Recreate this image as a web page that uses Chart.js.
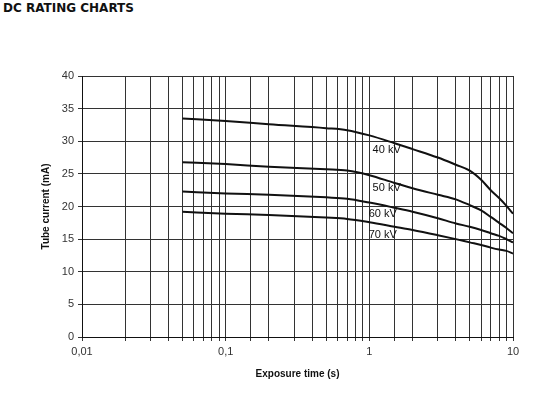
<!DOCTYPE html>
<html>
<head>
<meta charset="utf-8">
<script src="https://cdn.jsdelivr.net/npm/chart.js@4/dist/chart.umd.min.js"></script>
<style>
  html, body { margin: 0; padding: 0; background: #fff; }
  #wrap { position: relative; width: 542px; height: 396px; }
  #title { position: absolute; left: 3px; top: 1px; font: bold 12px "DejaVu Sans", Verdana, sans-serif; color: #111; }
  canvas { position: absolute; left: 0; top: 0; }
</style>
</head>
<body>
<div id="wrap">
  <div id="title">DC RATING CHARTS</div>
  <canvas id="c" width="542" height="396"></canvas>
</div>
<script>
// Exposure time (s)
const times = [0.05, 0.1, 0.2, 0.5, 0.7, 1, 1.5, 2, 3, 4, 5, 6, 7, 8, 9, 10];
// Tube current (mA) per voltage
const kv40 = [33.5, 33.1, 32.6, 32.0, 31.7, 30.9, 29.7, 28.8, 27.5, 26.4, 25.5, 24.1, 22.5, 21.3, 20.1, 18.9];
const kv50 = [26.8, 26.5, 26.1, 25.7, 25.5, 24.8, 23.6, 22.8, 21.8, 21.1, 20.2, 19.4, 18.4, 17.5, 16.7, 15.9];
const kv60 = [22.3, 22.0, 21.8, 21.4, 21.2, 20.6, 19.8, 19.2, 18.2, 17.4, 16.9, 16.4, 15.9, 15.5, 15.0, 14.5];
const kv70 = [19.2, 18.9, 18.7, 18.3, 18.1, 17.6, 16.9, 16.4, 15.6, 15.0, 14.5, 14.1, 13.7, 13.4, 13.2, 12.8];
const seriesNames = ['40 kV', '50 kV', '60 kV', '70 kV'];
// Curve label anchor positions (data coords: time, current)
const labelTimes = [1.32, 1.32, 1.24, 1.24];
const labelValues = [28.7, 22.9, 18.9, 15.7];
const xTickLabels = { 0.01: '0,01', 0.1: '0,1', 1: '1', 10: '10' };

const allSeries = [kv40, kv50, kv60, kv70];
const datasets = allSeries.map((vals, i) => ({
  label: seriesNames[i],
  data: times.map((t, j) => ({ x: t, y: vals[j] })),
  borderColor: '#111',
  borderWidth: 2,
  pointRadius: 0,
  fill: false,
  cubicInterpolationMode: 'monotone'
}));

const curveLabels = {
  id: 'curveLabels',
  afterDatasetsDraw(chart) {
    const { ctx, scales } = chart;
    ctx.save();
    ctx.font = '11px "Liberation Sans", Arial, sans-serif';
    ctx.fillStyle = '#111';
    ctx.textAlign = 'center';
    ctx.textBaseline = 'middle';
    seriesNames.forEach((n, i) => {
      ctx.fillText(n, scales.x.getPixelForValue(labelTimes[i]), scales.y.getPixelForValue(labelValues[i]));
    });
    ctx.restore();
  }
};

new Chart(document.getElementById('c'), {
  type: 'line',
  data: { datasets },
  plugins: [curveLabels],
  options: {
    responsive: false,
    animation: false,
    layout: { padding: { left: 40, right: 29, top: 76, bottom: 16 } },
    plugins: { legend: { display: false }, tooltip: { enabled: false } },
    scales: {
      x: {
        type: 'logarithmic',
        min: 0.01, max: 10,
        border: { color: '#111', width: 1 },
        grid: { color: '#333', lineWidth: 1, tickLength: 4, tickColor: '#333' },
        ticks: {
          autoSkip: false, maxRotation: 0, padding: 4,
          color: '#333',
          font: { family: '"Liberation Sans", Arial, sans-serif', size: 11 },
          callback: (v) => xTickLabels[v] !== undefined ? xTickLabels[v] : ''
        },
        title: {
          display: true, text: 'Exposure time (s)', color: '#111',
          font: { family: '"Liberation Sans", Arial, sans-serif', size: 10, weight: 'bold' },
          padding: { top: 4, bottom: 0 }
        },
        afterFit(s) { s.height = 396 - 337 - 16; }
      },
      y: {
        min: 0, max: 40,
        border: { color: '#111', width: 1 },
        grid: { color: '#333', lineWidth: 1, tickLength: 4, tickColor: '#333' },
        ticks: {
          stepSize: 5, padding: 4, color: '#333',
          font: { family: '"Liberation Sans", Arial, sans-serif', size: 11 }
        },
        title: {
          display: true, text: 'Tube current (mA)', color: '#111',
          font: { family: '"Liberation Sans", Arial, sans-serif', size: 10, weight: 'bold' },
          padding: { top: 0, bottom: 4 }
        },
        afterFit(s) { s.width = 82 - 40; }
      }
    }
  }
});
</script>
</body>
</html>
